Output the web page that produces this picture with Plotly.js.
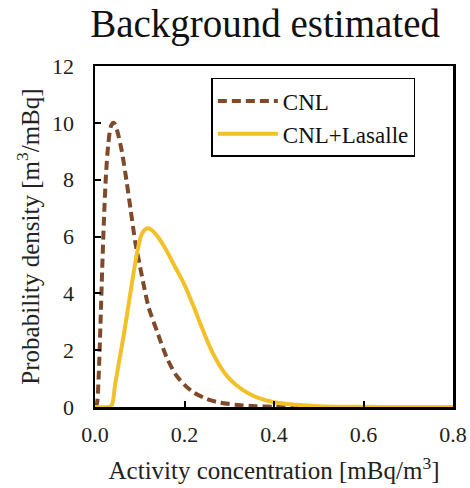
<!DOCTYPE html>
<html>
<head>
<meta charset="utf-8">
<script src="https://cdn.plot.ly/plotly-3.0.1.min.js"></script>
<style>html,body{margin:0;padding:0;background:#fff;}#chart{width:470px;height:488px;}</style>
</head>
<body>
<div id="chart"></div>
<script>
// CNL (dashed brown)
var cnlX = [0, 0.004, 0.008, 0.012, 0.016, 0.02, 0.025, 0.03, 0.035, 0.04, 0.045, 0.05, 0.06, 0.07, 0.08, 0.09, 0.10, 0.11, 0.12, 0.14, 0.16, 0.18, 0.20, 0.22, 0.25, 0.28, 0.32, 0.36, 0.40, 0.45, 0.50, 0.60, 0.80];
var cnlY = [0, 0.1, 1.0, 2.8, 4.8, 6.6, 8.3, 9.3, 9.85, 10.0, 9.95, 9.7, 9.0, 8.0, 6.9, 5.8, 5.0, 4.2, 3.5, 2.6, 1.75, 1.15, 0.78, 0.52, 0.28, 0.15, 0.07, 0.03, 0.01, 0, 0, 0, 0];
// CNL+Lasalle (solid gold)
var lasX = [0, 0.03, 0.037, 0.045, 0.055, 0.065, 0.075, 0.085, 0.095, 0.105, 0.115, 0.125, 0.14, 0.16, 0.18, 0.20, 0.22, 0.24, 0.26, 0.28, 0.30, 0.33, 0.36, 0.40, 0.45, 0.50, 0.60, 0.70, 0.80];
var lasY = [0, 0, 0.05, 0.8, 1.7, 2.6, 3.6, 4.6, 5.5, 6.1, 6.28, 6.25, 6.0, 5.5, 4.9, 4.3, 3.55, 2.75, 2.0, 1.42, 1.0, 0.6, 0.35, 0.17, 0.08, 0.03, 0.01, 0, 0];
var seriesNames = ['CNL', 'CNL+Lasalle'];
var xTicks = [0, 0.2, 0.4, 0.6, 0.8];
var xTickText = ['0.0', '0.2', '0.4', '0.6', '0.8'];
var yTicks = [0, 2, 4, 6, 8, 10, 12];

var serif = 'Liberation Serif, Times New Roman, serif';
var traces = [
  {x: cnlX, y: cnlY, name: seriesNames[0], mode: 'lines', type: 'scatter',
   line: {color: '#7F4A2A', width: 4, dash: '9px,5px', shape: 'spline', smoothing: 0.8}},
  {x: lasX, y: lasY, name: seriesNames[1], mode: 'lines', type: 'scatter',
   line: {color: '#F2C12A', width: 4, shape: 'spline', smoothing: 1}}
];
var layout = {
  width: 470, height: 488,
  margin: {l: 95, r: 17, t: 66, b: 81},
  paper_bgcolor: '#fff', plot_bgcolor: '#fff',
  font: {family: serif, color: '#222', size: 22},
  title: {text: 'Background estimated', font: {family: serif, size: 39, color: '#111'},
          x: 0.564, xref: 'container', xanchor: 'center', y: 0.953, yref: 'container', yanchor: 'middle'},
  xaxis: {range: [0, 0.8], tickvals: xTicks, ticktext: xTickText, ticks: 'inside', ticklen: 6, tickwidth: 2,
          tickcolor: '#000', showline: true, linecolor: '#000', linewidth: 2.5, mirror: true,
          showgrid: false, zeroline: false, tickfont: {size: 22, family: serif, color: '#222'},
          ticklabelstandoff: 6,
          title: {text: 'Activity concentration [mBq/m<sup>3</sup>]', font: {size: 25, family: serif, color: '#222'}, standoff: 16}},
  yaxis: {range: [0, 12], tickvals: yTicks, ticks: 'inside', ticklen: 6, tickwidth: 2,
          tickcolor: '#000', showline: true, linecolor: '#000', linewidth: 2.5, mirror: true,
          showgrid: false, zeroline: false, tickfont: {size: 22, family: serif, color: '#222'},
          ticklabelstandoff: 14,
          title: {text: 'Probability density [m<sup>3</sup>/mBq]', font: {size: 25, family: serif, color: '#222'}, standoff: 6}},
  legend: {x: 0.325, y: 0.965, xanchor: 'left', yanchor: 'top', bordercolor: '#000', borderwidth: 1.5,
           bgcolor: '#fff', font: {size: 23, family: serif, color: '#111'}, itemwidth: 60, tracegroupgap: 0},
  showlegend: true
};
Plotly.newPlot('chart', traces, layout, {staticPlot: true, displayModeBar: false});
</script>
</body>
</html>
